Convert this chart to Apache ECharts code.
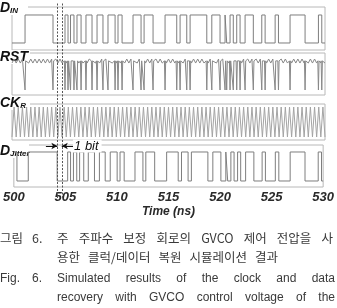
<!DOCTYPE html>
<html><head><meta charset="utf-8">
<script src="https://cdn.jsdelivr.net/npm/echarts@6/dist/echarts.min.js"></script>
<style>html,body{margin:0;padding:0;background:#fff}#c{width:337px;height:308px}</style>
</head><body><div id="c"></div><script>
// ---- data (times in ns) ----
const xTicks = [500, 505, 510, 515, 520, 525, 530];
const dinInit = 0;
const dinEdges = [501.25, 503.93, 505.08, 505.37, 505.61, 505.94, 506.23, 506.62, 507.09, 507.67,
  508.15, 508.72, 509.20, 509.88, 510.16, 510.55, 511.60, 512.37, 512.66, 513.52, 514.67, 515.79,
  516.11, 516.75, 517.07, 518.67, 519.15, 519.94, 520.42, 520.58, 520.90, 521.21, 521.54, 521.86,
  522.34, 523.13, 523.94, 524.26, 525.22, 525.54, 526.65, 528.09, 529.37, 529.69];
const djInit = 1;
const djEdges = [500.30, 501.40, 504.20, 505.22, 505.50, 505.78, 506.10, 506.38, 506.78, 507.22,
  507.82, 508.30, 508.86, 509.35, 510.02, 510.30, 510.70, 511.75, 512.52, 512.80, 513.66, 514.82,
  515.94, 516.26, 516.90, 517.22, 518.82, 519.30, 520.08, 520.56, 520.74, 521.05, 521.36, 521.70,
  522.00, 522.48, 523.28, 524.08, 524.40, 525.36, 525.70, 526.80, 528.24, 529.52, 529.84];
const rstSpikes = [501.25, 503.93, 505.08, 505.37, 505.61, 505.94, 506.23, 506.62, 507.09, 507.67,
  508.15, 508.72, 509.20, 509.88, 510.16, 510.55, 511.60, 512.37, 512.66, 513.52, 514.67, 515.79,
  516.11, 516.75, 517.07, 518.67, 519.15, 519.94, 520.42, 520.58, 520.90, 521.21, 521.54, 521.86,
  522.34, 523.13, 523.94, 524.26, 525.22, 525.54, 526.65, 528.09, 529.37, 529.69];
const ckInit = 0;
const ckTimes = [
  500.0,500.2,500.4,500.6,500.8, 501.0,501.2,501.4,501.6,501.8,
  502.0,502.2,502.4,502.6,502.8, 503.0,503.2,503.4,503.6,503.8,
  504.0,504.2,504.4,504.6,504.8, 505.0,505.2,505.4,505.6,505.8,
  506.0,506.2,506.4,506.6,506.8, 507.0,507.2,507.4,507.6,507.8,
  508.0,508.2,508.4,508.6,508.8, 509.0,509.2,509.4,509.6,509.8,
  510.0,510.2,510.4,510.6,510.8, 511.0,511.2,511.4,511.6,511.8,
  512.0,512.2,512.4,512.6,512.8, 513.0,513.2,513.4,513.6,513.8,
  514.0,514.2,514.4,514.6,514.8, 515.0,515.2,515.4,515.6,515.8,
  516.0,516.2,516.4,516.6,516.8, 517.0,517.2,517.4,517.6,517.8,
  518.0,518.2,518.4,518.6,518.8, 519.0,519.2,519.4,519.6,519.8,
  520.0,520.2,520.4,520.6,520.8, 521.0,521.2,521.4,521.6,521.8,
  522.0,522.2,522.4,522.6,522.8, 523.0,523.2,523.4,523.6,523.8,
  524.0,524.2,524.4,524.6,524.8, 525.0,525.2,525.4,525.6,525.8,
  526.0,526.2,526.4,526.6,526.8, 527.0,527.2,527.4,527.6,527.8,
  528.0,528.2,528.4,528.6,528.8, 529.0,529.2,529.4,529.6,529.8, 530.0];
const bitMarks = [504.35, 504.77];
const bitArrowFrom = [503.25, 505.85];
const bitText = '1 bit';
const axisTitle = 'Time (ns)';
const cap1Head = ['그림', '6.'];
const cap1 = ['주', '주파수', '보정', '회로의', 'GVCO', '제어', '전압을', '사'];
const cap2 = ['용한', '클럭/데이터', '복원', '시뮬레이션', '결과'];
const cap3Head = ['Fig.', '6.'];
const cap3 = ['Simulated', 'results', 'of', 'the', 'clock', 'and', 'data'];
const cap4 = ['recovery', 'with', 'GVCO', 'control', 'voltage', 'of', 'the'];
const cap5 = ['frequency', 'calibration.'];

// ---- build series data ----
function stepData(init, edges) {
  const d = [[500, init]]; let v = init;
  edges.forEach(t => { v = 1 - v; d.push([t, v]); });
  d.push([530, v]); return d;
}
function wave(init, times, hi, lo) {
  return times.map((t, i) => [t, ((i % 2 === 0) === (init === 0)) ? lo : hi]);
}
function rstData() {
  const ripple = wave(0, ckTimes, 1.0, 0.87).filter(p => !rstSpikes.some(s => Math.abs(s - p[0]) < 0.09));
  const pts = ripple.slice();
  rstSpikes.forEach(s => { pts.push([s - 0.06, 0.94]); pts.push([s, 0]); pts.push([s + 0.06, 0.94]); });
  pts.sort((a, b) => a[0] - b[0]);
  return pts;
}

const L = 12, R = 12;
const panels = [
  {top: 7, bottom: 50, min: -0.25, max: 1.2857},
  {top: 53, bottom: 95, min: -0.161, max: 1.194},
  {top: 104, bottom: 140, min: -0.1, max: 1.1},
  {top: 145, bottom: 187, min: -0.207, max: 1.241}
];
const grids = panels.map(p => ({left: L, right: R, top: p.top, height: p.bottom - p.top,
  show: true, borderColor: '#b8b8b8', borderWidth: 1, backgroundColor: 'transparent'}));
grids.push({left: L, right: R, top: 3, height: 195});
const xAxes = grids.map((g, i) => ({gridIndex: i, type: 'value', min: 500, max: 530, interval: 5,
  show: i === 3,
  axisLine: {show: false}, axisTick: {show: false}, splitLine: {show: false},
  axisLabel: {show: i === 3, margin: 4, fontFamily: 'Liberation Sans', fontSize: 13, fontWeight: 'bold', fontStyle: 'italic', color: '#2a2a2a',
    formatter: v => xTicks.includes(v) ? String(v) : ''},
  name: i === 3 ? axisTitle : '', nameLocation: 'middle', nameGap: 19,
  nameTextStyle: {fontFamily: 'Liberation Sans', fontSize: 12, fontWeight: 'bold', fontStyle: 'italic', color: '#2a2a2a'}
}));
const yAxes = grids.map((g, i) => i < 4 ? ({gridIndex: i, type: 'value', show: false, min: panels[i].min, max: panels[i].max})
  : ({gridIndex: i, type: 'value', show: false, min: 0, max: 1}));

const lineColor = '#7e7e7e';
const base = {type: 'line', symbol: 'none', silent: true, animation: false, lineStyle: {color: lineColor, width: 1}};
const bitY = (198 - 146) / 195;
const series = [
  Object.assign({}, base, {xAxisIndex: 0, yAxisIndex: 0, step: 'end', data: stepData(dinInit, dinEdges)}),
  Object.assign({}, base, {xAxisIndex: 1, yAxisIndex: 1, data: rstData(), lineStyle: {color: '#888', width: 1}}),
  Object.assign({}, base, {xAxisIndex: 2, yAxisIndex: 2, data: wave(ckInit, ckTimes, 1, 0), lineStyle: {color: '#a4a4a4', width: 1}}),
  Object.assign({}, base, {xAxisIndex: 3, yAxisIndex: 3, step: 'end', data: stepData(djInit, djEdges)}),
  {type: 'line', xAxisIndex: 4, yAxisIndex: 4, data: [], symbol: 'none', animation: false,
    markLine: {silent: true, animation: false, label: {show: false},
      data: [
        [{coord: [bitMarks[0], 0], symbol: 'none', lineStyle: {type: [2, 1.5], color: '#555', width: 1}}, {coord: [bitMarks[0], 1], symbol: 'none'}],
        [{coord: [bitMarks[1], 0], symbol: 'none', lineStyle: {type: [2, 1.5], color: '#555', width: 1}}, {coord: [bitMarks[1], 1], symbol: 'none'}],
        [{coord: [bitArrowFrom[0], bitY], symbol: 'none', lineStyle: {type: 'solid', color: '#111', width: 1}}, {coord: [bitMarks[0], bitY], symbol: 'arrow', symbolSize: [5, 6]}],
        [{coord: [bitArrowFrom[1], bitY], symbol: 'none', lineStyle: {type: 'solid', color: '#111', width: 1}}, {coord: [bitMarks[1], bitY], symbol: 'arrow', symbolSize: [5, 6]}]
      ]},
    markPoint: {silent: true, animation: false, symbolSize: 0,
      data: [{coord: [bitArrowFrom[1], bitY], label: {show: true, formatter: bitText, position: 'right', distance: 0, offset: [0, 0],
        fontFamily: 'Liberation Sans', fontSize: 13, fontStyle: 'italic', color: '#111', backgroundColor: '#fff', padding: [0, 3, 0, 1]}}]}
  }
];

function panelLabel(y, txt, w) {
  return {type: 'group', left: 0, top: y, children: [
    {type: 'rect', shape: {x: 0, y: 0, width: w, height: 14}, style: {fill: '#fff'}},
    {type: 'text', x: 0, y: 7, style: {text: txt, verticalAlign: 'middle',
      rich: {a: {fontFamily: 'Liberation Sans', fontWeight: 'bold', fontStyle: 'italic', fontSize: 14, fill: '#111'},
             s: {fontFamily: 'Liberation Sans', fontWeight: 'bold', fontStyle: 'italic', fontSize: 8, fill: '#111', padding: [6, 0, 0, 0]}}}}
  ]};
}
const KOF = "12.5px 'Noto Sans CJK KR'", ENF = "12px 'Liberation Sans'";
const ko = {fontFamily: 'Noto Sans CJK KR', fontSize: 12.5, fill: '#3a3a3a', verticalAlign: 'middle'};
const en = {fontFamily: 'Liberation Sans', fontSize: 12, fill: '#3a3a3a', verticalAlign: 'middle'};
const mctx = document.createElement('canvas').getContext('2d');
function justify(words, x0, x1, font) {
  mctx.font = font;
  const ws = words.map(w => mctx.measureText(w).width);
  const gap = (x1 - x0 - ws.reduce((a, b) => a + b, 0)) / (words.length - 1);
  let x = x0; return words.map((w, i) => { const r = [w, x]; x += ws[i] + gap; return r; });
}
function spaced(words, x0, gap, font) {
  mctx.font = font; let x = x0;
  return words.map(w => { const r = [w, x]; x += mctx.measureText(w).width + gap; return r; });
}
function line(y, placed, st) { return placed.map(w => ({type: 'text', x: w[1], y: y, style: Object.assign({text: w[0]}, st)})); }

const graphic = [
  panelLabel(1, '{a|D}{s|IN}', 28),
  panelLabel(50, '{a|RST}', 30),
  panelLabel(96, '{a|CK}{s|R}', 30),
  panelLabel(144, '{a|D}{s|Jitter}', 29)
].concat(
  line(238, [[cap1Head[0], 0], [cap1Head[1], 32]], ko), line(238, justify(cap1, 57, 333, KOF), ko),
  line(257, spaced(cap2, 57, 8, KOF), ko),
  line(279, [[cap3Head[0], 0], [cap3Head[1], 32]], en), line(279, justify(cap3, 57, 335, ENF), en),
  line(298, justify(cap4, 57, 335, ENF), en),
  line(314, spaced(cap5, 118, 8, ENF), en));

const chart = echarts.init(document.getElementById('c'), null, {renderer: 'canvas'});
chart.setOption({animation: false, backgroundColor: '#fff', grid: grids, xAxis: xAxes, yAxis: yAxes, series: series, graphic: graphic});
</script></body></html>
